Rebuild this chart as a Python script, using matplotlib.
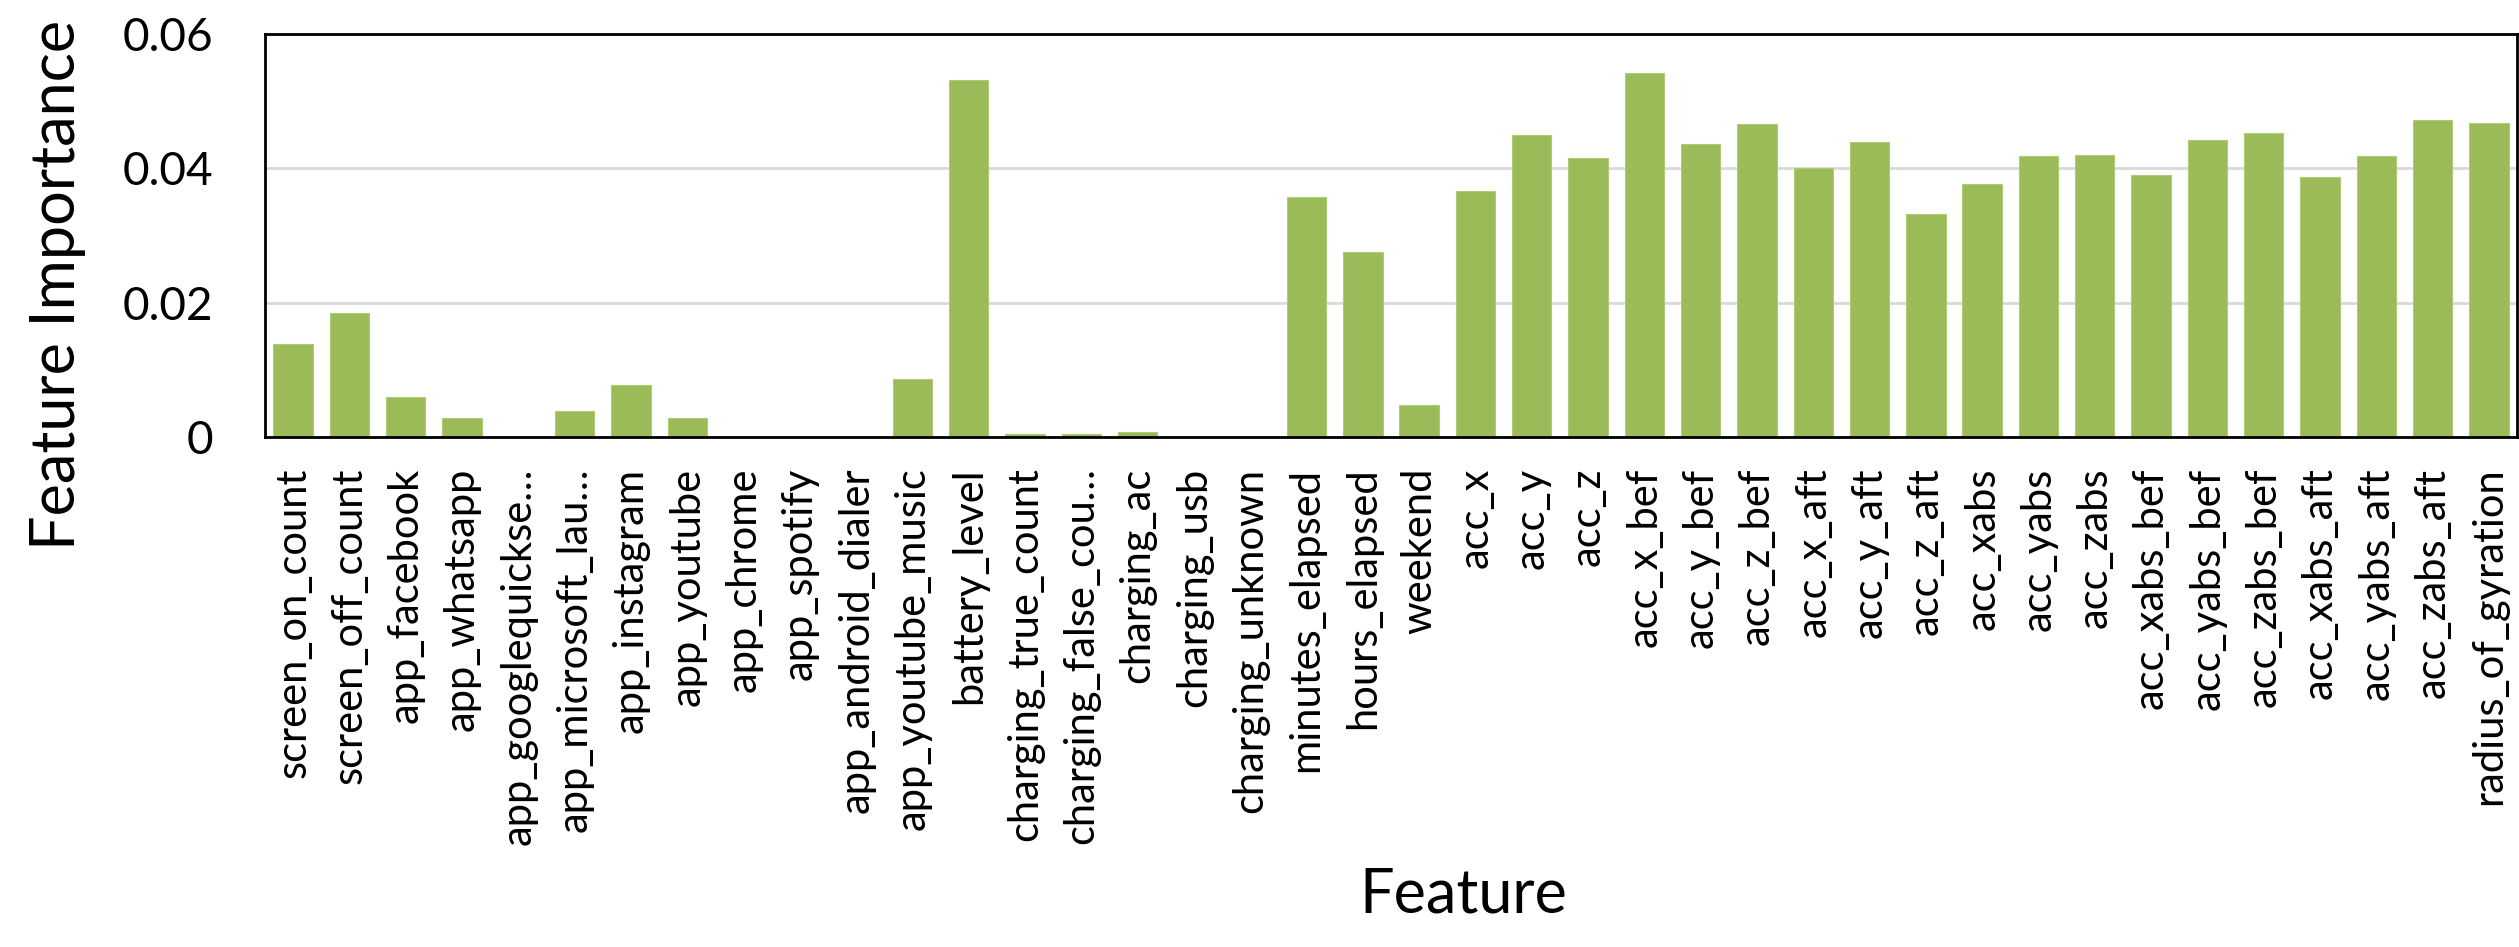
#!/usr/bin/env python3
import matplotlib

matplotlib.use("Agg")
import matplotlib.pyplot as plt
import numpy as np

features = [
    "screen_on_count", "screen_off_count", "app_facebook", "app_whatsapp",
    "app_googlequickse\u2026", "app_microsoft_lau\u2026", "app_instagram", "app_youtube",
    "app_chrome", "app_spotify", "app_android_dialer", "app_youtube_music",
    "battery_level", "charging_true_count", "charging_false_cou\u2026", "charging_ac",
    "charging_usb", "charging_unknown", "minutes_elapsed", "hours_elapsed",
    "weekend", "acc_x", "acc_y", "acc_z",
    "acc_x_bef", "acc_y_bef", "acc_z_bef", "acc_x_aft",
    "acc_y_aft", "acc_z_aft", "acc_xabs", "acc_yabs",
    "acc_zabs", "acc_xabs_bef", "acc_yabs_bef", "acc_zabs_bef",
    "acc_xabs_aft", "acc_yabs_aft", "acc_zabs_aft", "radius_of_gyration",
]
importance = [
    0.0139, 0.0184, 0.0060, 0.0028,
    0.0, 0.0039, 0.0078, 0.0028,
    0.0, 0.0, 0.0, 0.0087,
    0.0531, 0.0005, 0.0005, 0.0008,
    0.0, 0.0, 0.0357, 0.0275,
    0.0047, 0.0366, 0.0450, 0.0415,
    0.0542, 0.0436, 0.0466, 0.0400,
    0.0439, 0.0332, 0.0377, 0.0418,
    0.0420, 0.0390, 0.0442, 0.0453,
    0.0387, 0.0418, 0.0472, 0.0468,
]
y_ticks = [0, 0.02, 0.04, 0.06]
y_tick_labels = ["0", "0.02", "0.04", "0.06"]


def main() -> int:
    plt.rcParams.update(
        {
            "font.family": ["Lato", "DejaVu Sans"],
            "axes.linewidth": 2.0,
            "figure.facecolor": "white",
            "axes.facecolor": "white",
        }
    )

    fig = plt.figure(figsize=(25.19, 9.47), dpi=100)
    ax = fig.add_axes([265 / 2519, 1 - 437 / 947, (2517 - 265) / 2519, (437 - 34) / 947])

    x = np.arange(len(features))
    ax.bar(x, importance, width=0.70, color="#9BBB59", edgecolor="#AECB78",
           linewidth=0.8, zorder=3)

    ax.set_xlim(-0.5, len(features) - 0.5)
    ax.set_ylim(0, 0.06)
    ax.set_yticks(y_ticks)
    ax.set_yticklabels(y_tick_labels, fontsize=33)
    ax.set_xticks(x)
    ax.set_xticklabels(features, rotation=90, fontsize=30)
    ax.tick_params(axis="x", length=0, pad=22)
    ax.tick_params(axis="y", length=0, pad=37)

    ax.yaxis.grid(True, color="#d9d9d9", linewidth=2.0, zorder=0)
    ax.set_axisbelow(True)
    for sp in ax.spines.values():
        sp.set_color("black")
        sp.set_zorder(4)

    # axis titles sit where the reference puts them, not centred on the axes
    fig.text(75 / 2519, 1 - 285 / 947, "Feature Importance", rotation=90,
             rotation_mode="anchor", ha="center", va="baseline", fontsize=44)
    fig.text(1463 / 2519, 1 - 895 / 947, "Feature", ha="center", va="center", fontsize=44)

    fig.savefig("out.png", dpi=100)
    return 0


if __name__ == "__main__":
    raise SystemExit(main())
